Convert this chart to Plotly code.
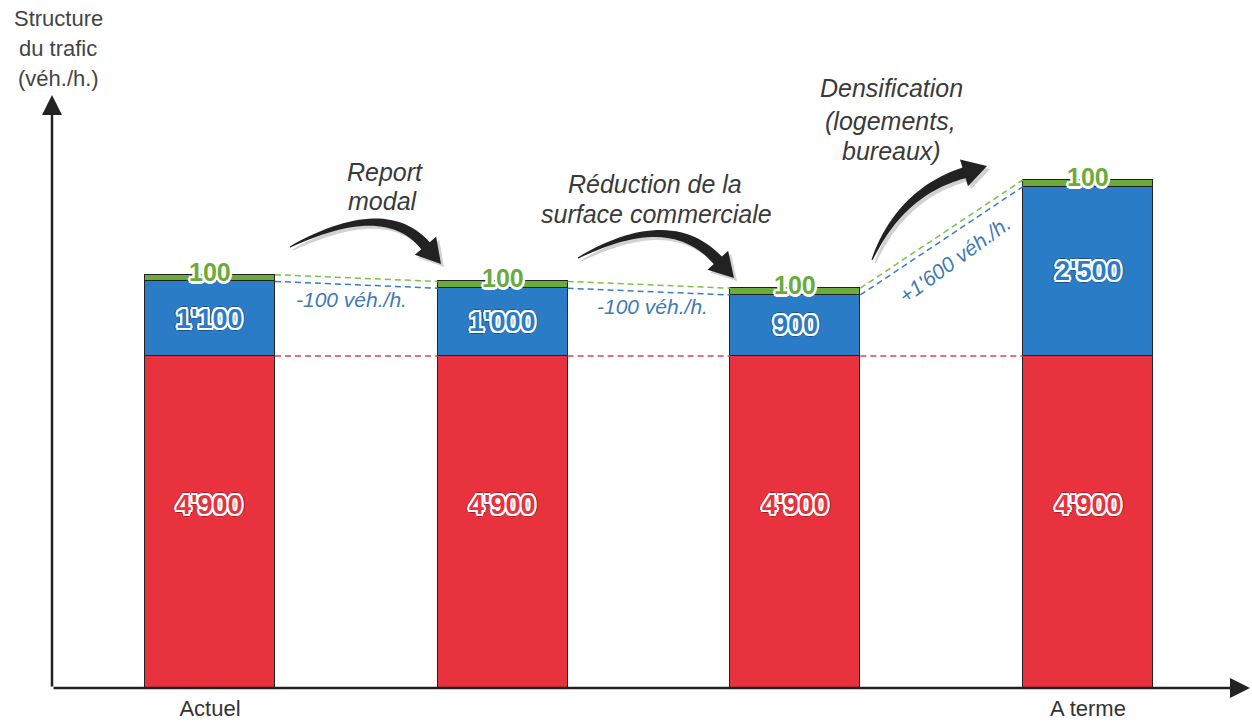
import plotly.graph_objects as go
import numpy as np

# ---------------- data ----------------
categories = ["Actuel", "", "", "A terme"]
tick_labels = ["Actuel", "", "", "A terme"]
red_values = [4900, 4900, 4900, 4900]
blue_values = [1100, 1000, 900, 2500]
green_values = [100, 100, 100, 100]
red_labels = ["4'900", "4'900", "4'900", "4'900"]
blue_labels = ["1'100", "1'000", "900", "2'500"]
green_labels = ["100", "100", "100", "100"]
change_labels = ["-100 véh./h.", "-100 véh./h.", "+1'600 véh./h."]
step_titles = [["Report", "modal"],
               ["Réduction de la", "surface commerciale"],
               ["Densification", "(logements,", "bureaux)"]]
y_title = ["Structure", "du trafic", "(véh./h.)"]

# ---------------- layout constants ----------------
W, H = 1252, 722
L, R, T, B = 52, 2, 95, 34
PW, PH = W - L - R, H - T - B
PX_PER_UNIT = 0.06776
YMAX = PH / PX_PER_UNIT
STEP = 292.7
X0 = -(210 - L) / STEP
X1 = 3 + (W - R - 1088) / STEP
BW = 0.444

RED = "#e8323d"
BLUE = "#2b7cc6"
GREEN = "#6aab3c"
FONT = "Liberation Sans"

x = list(range(len(categories)))
fig = go.Figure()
for vals, col in [(red_values, RED), (blue_values, BLUE), (green_values, GREEN)]:
    fig.add_trace(go.Bar(x=x, y=vals, marker=dict(color=col, line=dict(color="#222", width=1.2)),
                         width=BW, hoverinfo="skip", showlegend=False))

# dashed connectors
tot_blue = [r + b for r, b in zip(red_values, blue_values)]
tot_green = [t + g for t, g in zip(tot_blue, green_values)]
for series, col in [(red_values, "#d9455a"), (tot_blue, "#3a7cc4"), (tot_green, "#7cbf4a")]:
    for i in range(len(x) - 1):
        fig.add_trace(go.Scatter(x=[x[i] + BW / 2, x[i + 1] - BW / 2], y=[series[i], series[i + 1]],
                                 mode="lines", line=dict(color=col, width=1.5, dash="6px,4px"),
                                 hoverinfo="skip", showlegend=False))

def outline(c, w=2):
    d = round(w * 0.72, 2)
    return (f"{w}px 0 0 {c}, -{w}px 0 0 {c}, 0 {w}px 0 {c}, 0 -{w}px 0 {c}, "
            f"{d}px {d}px 0 {c}, -{d}px -{d}px 0 {c}, {d}px -{d}px 0 {c}, -{d}px {d}px 0 {c}")

def label_shadow(dark):
    return outline("#fff", 2.2) + ", " + outline(dark, 3.2)

ann = []
for i in x:
    ann.append(dict(x=i, y=red_values[i] / 2, text=red_labels[i], showarrow=False, yshift=17,
                    font=dict(family=FONT, size=27, color=RED, weight="bold", shadow=label_shadow("#a01c25"))))
    ann.append(dict(x=i, y=red_values[i] + blue_values[i] / 2, text=blue_labels[i], showarrow=False,
                    font=dict(family=FONT, size=27, color=BLUE, weight="bold", shadow=label_shadow("#1a4f85"))))
    ann.append(dict(x=i, y=tot_green[i], text=green_labels[i], showarrow=False, yshift=3,
                    font=dict(family=FONT, size=25, color=GREEN, weight="bold", shadow=outline("#fff", 2.5))))

# change labels
shifts = [(-5, -15, 0), (3, -15, 0), (13, -19, -36)]
for i, lab in enumerate(change_labels):
    xs, ys, ang = shifts[i]
    ann.append(dict(x=i + 0.5, y=(tot_blue[i] + tot_blue[i + 1]) / 2, text=lab, showarrow=False,
                    xshift=xs, yshift=ys, textangle=ang,
                    font=dict(family=FONT, size=21, color="#3f7ab5", style="italic")))

def px2paper(px, py):
    return (px - L) / PW, (H - B - py) / PH

title_pos = [[(385, 172), (383, 201)], [(655, 184), (656, 214)], [(891, 88), (890, 121), (891, 151)]]
for lines, poss in zip(step_titles, title_pos):
    for txt, (px, py) in zip(lines, poss):
        xp, yp = px2paper(px, py)
        ann.append(dict(x=xp, y=yp, xref="paper", yref="paper", text=txt, showarrow=False,
                        xanchor="center", yanchor="middle",
                        font=dict(family=FONT, size=25, color="#3a3a3a", style="italic")))
for txt, py in zip(y_title, [18, 48, 78]):
    xp, yp = px2paper(58, py)
    ann.append(dict(x=xp, y=yp, xref="paper", yref="paper", text=txt, showarrow=False,
                    xanchor="center", yanchor="middle", font=dict(family=FONT, size=22, color="#444")))

# axes arrows
ann.append(dict(x=0, y=1, xref="paper", yref="paper", ax=0, ay=PH, axref="pixel", ayref="pixel",
                text="", showarrow=True, arrowhead=2, arrowsize=1.6, arrowwidth=2.5, arrowcolor="#222"))
ann.append(dict(x=1, y=0, xref="paper", yref="paper", ax=-PW, ay=0, text="", showarrow=True,
                arrowhead=2, arrowsize=1.6, arrowwidth=2.5, arrowcolor="#222"))

# curved tapered arrows (decorative)
def curved_arrow(p0, p1, tip, hlen=24, hw=14, w0=1.0, w1=11):
    tip = np.array(tip, float)
    p0 = np.array(p0, float); p1 = np.array(p1, float)
    d = tip - p1
    d /= np.linalg.norm(d)
    p2 = tip - hlen * d
    ts = np.linspace(0, 1, 30)
    left, right = [], []
    for t in ts:
        pt = (1 - t) ** 2 * p0 + 2 * (1 - t) * t * p1 + t ** 2 * p2
        tg = 2 * (1 - t) * (p1 - p0) + 2 * t * (p2 - p1)
        tg /= np.linalg.norm(tg)
        n = np.array([-tg[1], tg[0]])
        w = w0 + (w1 - w0) * t ** 0.7
        left.append(pt + n * w / 2)
        right.append(pt - n * w / 2)
    n = np.array([-d[1], d[0]])
    pts = left + [p2 + n * hw, tip, p2 - n * hw] + right[::-1]
    return pts

def to_path(pts, dx=0, dy=0):
    s = []
    for k, (px, py) in enumerate(pts):
        xp, yp = px2paper(px + dx, py + dy)
        s.append(("M" if k == 0 else "L") + f"{xp:.5f},{yp:.5f}")
    return " ".join(s) + " Z"

shapes = []
for p0, p1, tip in [((290, 247), (385, 198), (441, 264)),
                    ((578, 258), (670, 208), (734, 278)),
                    ((872, 260), (900, 192), (987, 166))]:
    pts = curved_arrow(p0, p1, tip)
    shapes.append(dict(type="path", xref="paper", yref="paper", path=to_path(pts, 3, 3),
                       fillcolor="rgba(0,0,0,0.18)", line=dict(width=0)))
    shapes.append(dict(type="path", xref="paper", yref="paper", path=to_path(pts),
                       fillcolor="#222", line=dict(width=0)))

fig.update_layout(
    width=W, height=H, margin=dict(l=L, r=R, t=T, b=B),
    paper_bgcolor="white", plot_bgcolor="white", barmode="stack", bargap=0,
    annotations=ann, shapes=shapes,
    xaxis=dict(range=[X0, X1], tickvals=x, ticktext=tick_labels, showgrid=False, zeroline=False,
               showline=False, ticks="", ticklabelstandoff=5,
               tickfont=dict(family=FONT, size=22, color="#333")),
    yaxis=dict(range=[0, YMAX], showgrid=False, zeroline=False, showline=False,
               showticklabels=False, ticks=""),
)
fig.write_html("out.html")
